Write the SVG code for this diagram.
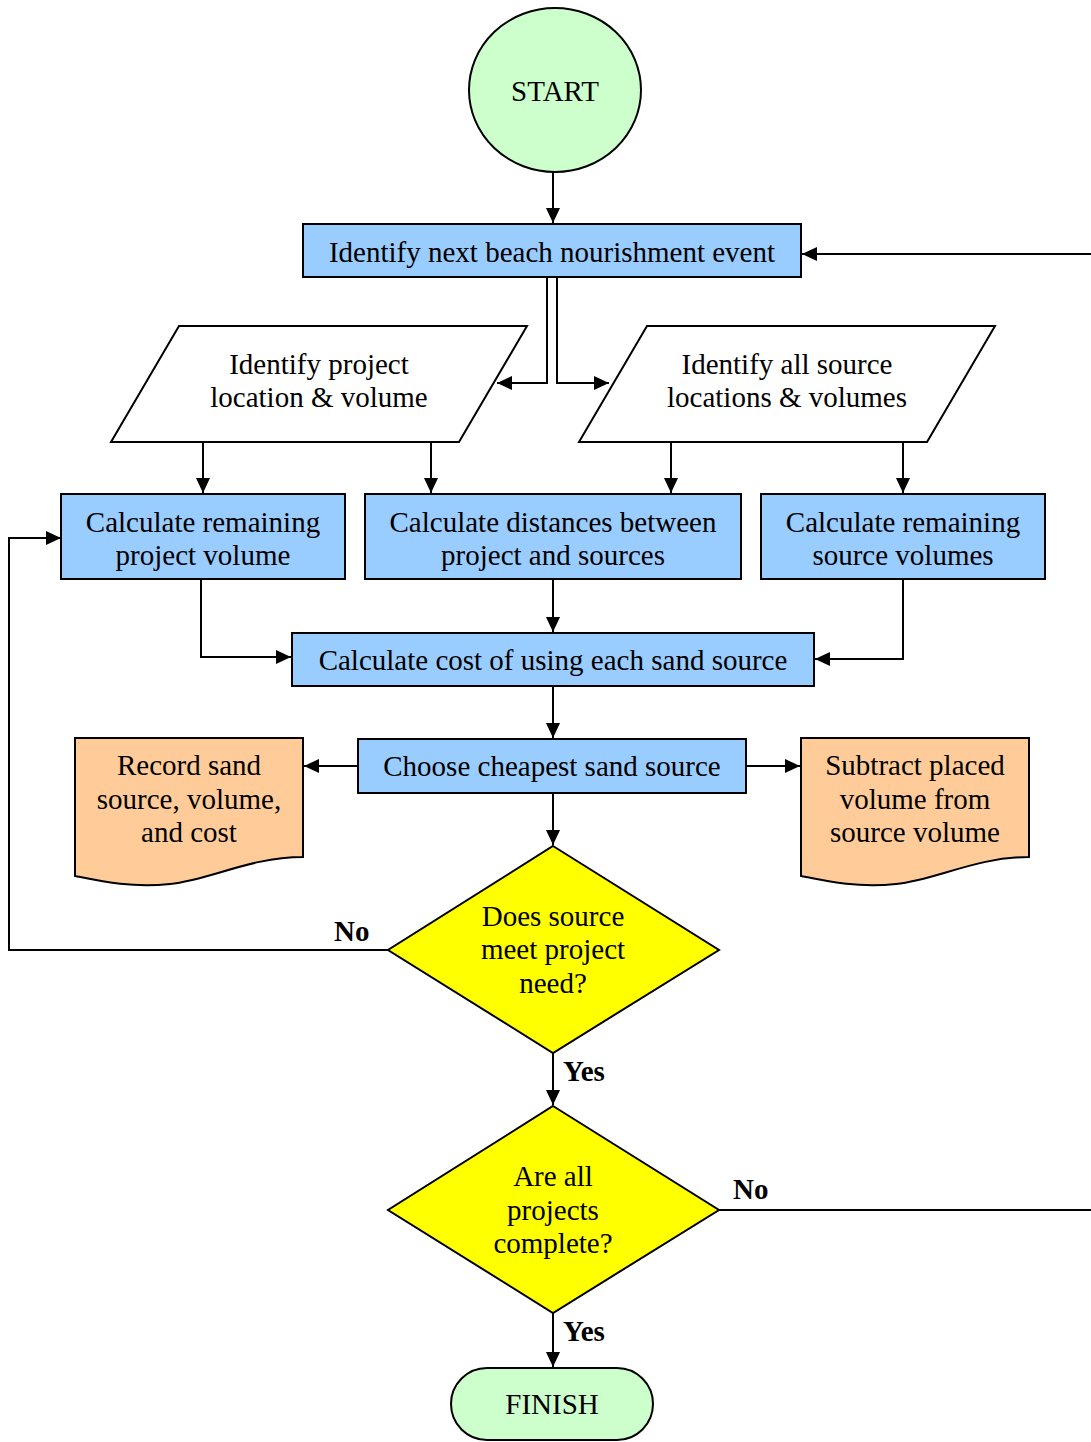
<svg xmlns="http://www.w3.org/2000/svg" width="1091" height="1442" viewBox="0 0 1091 1442" font-family="'Liberation Serif', 'Times New Roman', 'DejaVu Serif', serif">
<style>
text{font-family:'Liberation Serif','Times New Roman','DejaVu Serif',serif;font-size:29px;fill:#000;text-anchor:middle}
.lbl{font-weight:bold;text-anchor:start}
.box{fill:#99ccff;stroke:#000;stroke-width:2}
.io{fill:#fff;stroke:#000;stroke-width:2}
.doc{fill:#ffcc99;stroke:#000;stroke-width:2}
.dec{fill:#ffff00;stroke:#000;stroke-width:2}
.term{fill:#ccffcc;stroke:#000;stroke-width:2}
.c{fill:none;stroke:#000;stroke-width:2}
.a{marker-end:url(#ah)}
</style>
<defs>
<marker id="ah" markerUnits="userSpaceOnUse" markerWidth="16" markerHeight="14" refX="15" refY="7" orient="auto">
<path d="M0,0 L15,7 L0,14 Z" fill="#000"/>
</marker>
</defs>
<g id="connectors">
<path class="c a" d="M553,172 V223"/>
<path class="c a" d="M1091,254 H802"/>
<path class="c a" d="M547,278 V383 H497"/>
<path class="c a" d="M557,278 V383 H609"/>
<path class="c a" d="M203,442 V493"/>
<path class="c a" d="M431,442 V493"/>
<path class="c a" d="M671,442 V493"/>
<path class="c a" d="M903,442 V493"/>
<path class="c a" d="M553,580 V632"/>
<path class="c a" d="M201,580 V657 H291"/>
<path class="c a" d="M903,580 V659 H815"/>
<path class="c a" d="M553,687 V738"/>
<path class="c a" d="M358,766 H304"/>
<path class="c a" d="M746,766 H800"/>
<path class="c a" d="M553,794 V845"/>
<path class="c a" d="M388,950 H9 V538 H61"/>
<path class="c a" d="M553,1053 V1105"/>
<path class="c" d="M719,1210 H1091"/>
<path class="c a" d="M553,1313 V1367"/>
<text class="lbl" x="334" y="941">No</text>
<text class="lbl" x="563" y="1081">Yes</text>
<text class="lbl" x="733" y="1199">No</text>
<text class="lbl" x="563" y="1341">Yes</text>
</g>
<g id="start">
<ellipse class="term" cx="555" cy="90" rx="86" ry="82"/>
<text x="555" y="101">START</text>
</g>
<g id="identify-event">
<rect class="box" x="303" y="224" width="498" height="53"/>
<text x="552" y="262">Identify next beach nourishment event</text>
</g>
<g id="identify-project">
<polygon class="io" points="179,326 527,326 459,442 111,442"/>
<text x="319" y="374">Identify project</text>
<text x="319" y="407">location &amp; volume</text>
</g>
<g id="identify-sources">
<polygon class="io" points="647,326 995,326 927,442 579,442"/>
<text x="787" y="374">Identify all source</text>
<text x="787" y="407">locations &amp; volumes</text>
</g>
<g id="calc-project-volume">
<rect class="box" x="61" y="494" width="284" height="85"/>
<text x="203" y="532">Calculate remaining</text>
<text x="203" y="565">project volume</text>
</g>
<g id="calc-distances">
<rect class="box" x="365" y="494" width="376" height="85"/>
<text x="553" y="532">Calculate distances between</text>
<text x="553" y="565">project and sources</text>
</g>
<g id="calc-source-volumes">
<rect class="box" x="761" y="494" width="284" height="85"/>
<text x="903" y="532">Calculate remaining</text>
<text x="903" y="565">source volumes</text>
</g>
<g id="calc-cost">
<rect class="box" x="292" y="633" width="522" height="53"/>
<text x="553" y="670">Calculate cost of using each sand source</text>
</g>
<g id="choose">
<rect class="box" x="358" y="739" width="388" height="54"/>
<text x="552" y="776">Choose cheapest sand source</text>
</g>
<g id="record">
<path class="doc" d="M75,738 H303 V857 C250,857 210,880 170,884 C130,888 100,881 75,876 Z"/>
<text x="189" y="775">Record sand</text>
<text x="189" y="809">source, volume,</text>
<text x="189" y="842">and cost</text>
</g>
<g id="subtract">
<path class="doc" d="M801,738 H1029 V857 C976,857 936,880 896,884 C856,888 826,881 801,876 Z"/>
<text x="915" y="775">Subtract placed</text>
<text x="915" y="809">volume from</text>
<text x="915" y="842">source volume</text>
</g>
<g id="meet-need">
<polygon class="dec" points="553,846 719,950 553,1053 388,950"/>
<text x="553" y="926">Does source</text>
<text x="553" y="959">meet project</text>
<text x="553" y="993">need?</text>
</g>
<g id="all-complete">
<polygon class="dec" points="553,1106 719,1210 553,1313 388,1210"/>
<text x="553" y="1186">Are all</text>
<text x="553" y="1220">projects</text>
<text x="553" y="1253">complete?</text>
</g>
<g id="finish">
<rect class="term" x="451" y="1368" width="202" height="72" rx="36"/>
<text x="552" y="1414">FINISH</text>
</g>
</svg>
